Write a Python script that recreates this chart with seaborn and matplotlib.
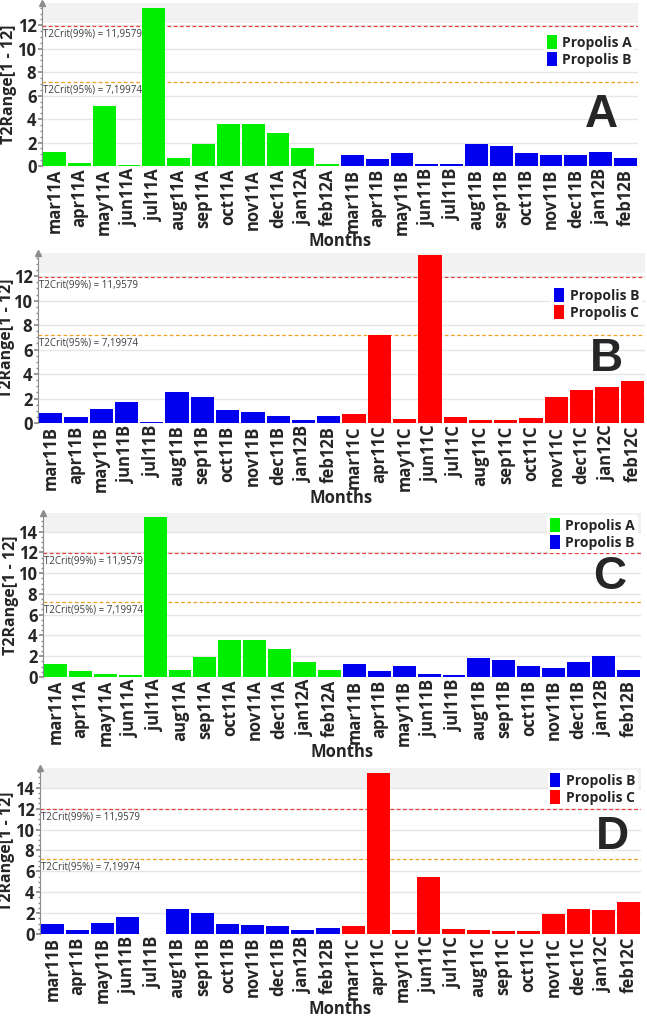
import matplotlib
matplotlib.use("Agg")
import matplotlib.pyplot as plt
import pandas as pd
import seaborn as sns
from matplotlib.patches import Rectangle
from matplotlib.ticker import MultipleLocator

# --- data ---
months = ["mar11", "apr11", "may11", "jun11", "jul11", "aug11",
          "sep11", "oct11", "nov11", "dec11", "jan12", "feb12"]

a_prop_a = [1.22, 0.23, 5.15, 0.08, 13.5, 0.65, 1.87, 3.57, 3.55, 2.84, 1.56, 0.15]
a_prop_b = [0.94, 0.57, 1.13, 0.14, 0.17, 1.87, 1.70, 1.08, 0.94, 0.94, 1.22, 0.65]

b_prop_b = [0.83, 0.47, 1.13, 1.68, 0.10, 2.51, 2.12, 1.05, 0.91, 0.58, 0.22, 0.60]
b_prop_c = [0.72, 7.17, 0.36, 13.7, 0.47, 0.28, 0.22, 0.39, 2.15, 2.68, 2.90, 3.45]

c_prop_a = [1.23, 0.55, 0.29, 0.23, 15.4, 0.71, 1.97, 3.58, 3.52, 2.74, 1.48, 0.71]
c_prop_b = [1.23, 0.55, 1.06, 0.29, 0.15, 1.87, 1.65, 1.10, 0.90, 1.42, 2.06, 0.65]

d_prop_b = [0.93, 0.35, 1.09, 1.67, 0.03, 2.44, 2.03, 0.93, 0.84, 0.77, 0.42, 0.58]
d_prop_c = [0.77, 15.4, 0.39, 5.43, 0.45, 0.39, 0.29, 0.29, 1.96, 2.44, 2.28, 3.09]

crit_99 = 11.9579
crit_95 = 7.19974

group_colors = {"Propolis A": "#00ee00", "Propolis B": "#0000ee", "Propolis C": "#ff0000"}

sns.set_theme(style="white")
plt.rcParams["font.family"] = ["Open Sans", "DejaVu Sans"]

W, H = 647, 1016
fig = plt.figure(figsize=(W / 100, H / 100), dpi=100)

# axes rectangles in figure fractions (left, bottom, width, height)
panels = [
    ("A", a_prop_a, a_prop_b, "A", "B", [0.065, 0.8366, 0.921, 0.1604], 13.9, (0.938, 0.313), 0.82, 17),
    ("B", b_prop_b, b_prop_c, "B", "C", [0.0587, 0.5837, 0.938, 0.1673], 13.9, (0.937, 0.376), 0.81, 15),
    ("C", c_prop_a, c_prop_b, "A", "B", [0.0665, 0.3337, 0.924, 0.1614], 15.8, (0.948, 0.61), 0.985, 19),
    ("D", d_prop_b, d_prop_c, "B", "C", [0.0618, 0.0807, 0.929, 0.1634], 15.9, (0.953, 0.584), 0.985, 15),
]

for letter, left_vals, right_vals, g1, g2, rect, ymax, letter_pos, leg_top, ylab_x in panels:
    ax = fig.add_axes(rect)
    ax_w, ax_h = rect[2] * W, rect[3] * H
    name1, name2 = f"Propolis {g1}", f"Propolis {g2}"
    df = pd.DataFrame({
        "label": [m + g1 for m in months] + [m + g2 for m in months],
        "value": left_vals + right_vals,
        "group": [name1] * 12 + [name2] * 12,
    })
    sns.barplot(data=df, x="label", y="value", hue="group", palette=group_colors,
                dodge=False, width=0.92, saturation=1, linewidth=0, ax=ax, zorder=3)

    # grey band on top of the plot area
    band_h = 20 / ax_h
    ax.add_patch(Rectangle((0, 1 - band_h), 1, band_h, transform=ax.transAxes,
                           facecolor="#f2f2f2", edgecolor="none", zorder=0))

    ax.set_xlim(-0.5, 23.5)
    ax.set_ylim(0, ymax)
    ax.yaxis.set_major_locator(MultipleLocator(2))
    ax.yaxis.set_minor_locator(MultipleLocator(0.5))
    ax.grid(axis="y", color="#e6e6e6", linewidth=1, zorder=1)
    ax.set_axisbelow(True)

    for side in ["top", "right", "bottom"]:
        ax.spines[side].set_visible(False)
    ax.spines["left"].set_color("#8c8c8c")
    ax.spines["left"].set_linewidth(0.8)
    ax.plot([0], [1], marker="^", markersize=4, color="#8c8c8c",
            transform=ax.transAxes, clip_on=False)

    ax.tick_params(axis="y", which="major", length=3, color="#8c8c8c", pad=1,
                   labelsize=12, left=True)
    ax.tick_params(axis="y", which="minor", length=1.5, color="#8c8c8c", left=True)
    ax.tick_params(axis="x", length=0, pad=2, labelsize=12)
    for t in ax.get_yticklabels():
        t.set_fontweight("bold")
    for t in ax.get_xticklabels():
        t.set_fontweight("bold")
        t.set_rotation(90)

    ax.set_xlabel("Months", fontsize=12, fontweight="bold")
    ax.xaxis.set_label_coords(0.5, -66 / ax_h)
    ax.set_ylabel("T2Range[1 - 12]", fontsize=11.5, fontweight="bold")
    ax.yaxis.set_label_coords((ylab_x - rect[0] * W) / ax_w, 0.5)

    # control limits
    ax.axhline(crit_99, color="#e84040", linestyle=(0, (3, 2)), linewidth=0.9, zorder=2)
    ax.axhline(crit_95, color="#f0a020", linestyle=(0, (3, 2)), linewidth=0.9, zorder=2)
    ax.text(0.002, crit_99 - 0.25, "T2Crit(99%) = 11,9579", transform=ax.get_yaxis_transform(),
            fontsize=7, color="#3c3c3c", va="top", ha="left", zorder=2)
    ax.text(0.002, crit_95 - 0.25, "T2Crit(95%) = 7,19974", transform=ax.get_yaxis_transform(),
            fontsize=7, color="#3c3c3c", va="top", ha="left", zorder=2)

    handles, labels = ax.get_legend_handles_labels()
    leg = ax.legend(handles, labels, loc="upper right", bbox_to_anchor=(0.995, leg_top),
                    frameon=True, facecolor="white", edgecolor="none", framealpha=1,
                    prop={"weight": "bold", "size": 10}, handlelength=0.7,
                    handleheight=1.2, handletextpad=0.4, labelspacing=0.15,
                    borderpad=0.2, borderaxespad=0)
    leg.set_zorder(5)

    ax.text(letter_pos[0], letter_pos[1], letter, transform=ax.transAxes,
            fontsize=33, fontweight="bold", family="Liberation Sans",
            ha="center", va="center", zorder=6)

fig.savefig("out.png", dpi=100)
